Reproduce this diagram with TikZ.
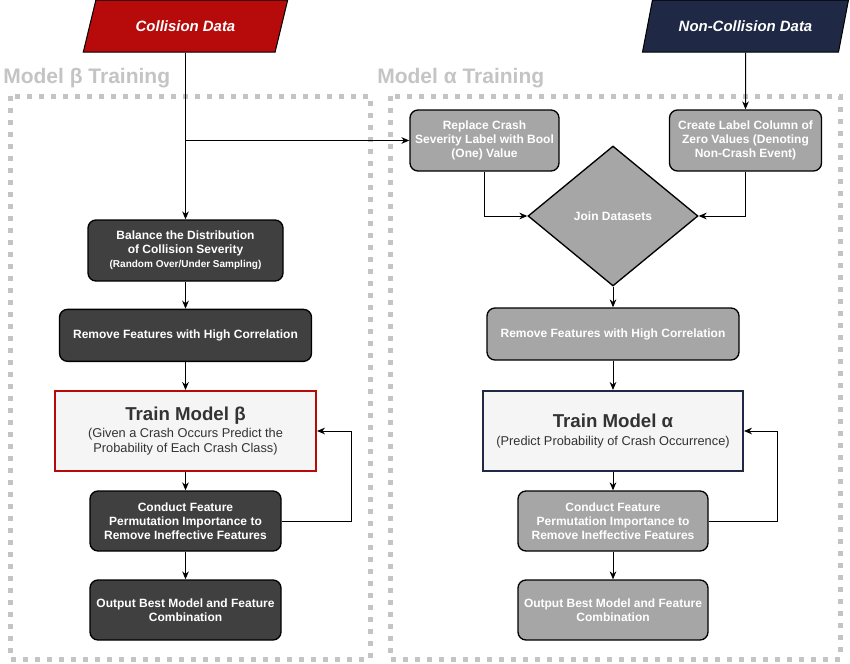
\documentclass[tikz,border=0pt]{standalone}
\usepackage{fontspec}
\setmainfont{Liberation Sans}
\usetikzlibrary{positioning, shapes.geometric, arrows.meta}

\definecolor{crashred}{HTML}{B70B0B}
\definecolor{navy}{HTML}{1F2845}
\definecolor{darkbox}{HTML}{404040}
\definecolor{lightbox}{HTML}{A6A6A6}
\definecolor{trainfill}{HTML}{F5F5F5}
\definecolor{framegray}{HTML}{C4C4C4}
\definecolor{titlegray}{HTML}{333333}

\tikzset{
  data/.style={trapezium, trapezium left angle=69, trapezium right angle=111,
    trapezium stretches=true, draw=black, line width=0.75pt,
    minimum width=154.5pt, minimum height=39pt, text=white,
    font=\bfseries\itshape\fontsize{11.2}{13}\selectfont},
  process/.style={draw=black, line width=1pt, rounded corners=6pt, text=white,
    align=center, inner sep=2pt, font=\bfseries\fontsize{9}{10.5}\selectfont},
  dark/.style={process, fill=darkbox},
  light/.style={process, fill=lightbox},
  train/.style={draw, line width=1.5pt, fill=trainfill, text=titlegray, align=center,
    minimum height=60pt, font=\fontsize{9.6}{11.25}\selectfont},
  frame/.style={draw=framegray, line width=3.75pt, dash pattern=on 3.75pt off 5.25pt},
  group/.style={text=framegray, anchor=west, inner sep=0pt,
    font=\bfseries\fontsize{15.75}{18}\selectfont},
  arr/.style={-{Stealth[length=6pt,width=5pt]}, line width=0.75pt},
}

\begin{document}
\begin{tikzpicture}[x=0.75pt, y=-0.75pt]
  \useasboundingbox (0,0) rectangle (850,664);

  % Groups
  \draw[frame] (10,96) rectangle (370,659);
  \draw[frame] (390,96) rectangle (840,659);
  \node[group] (betalabel) at (3,78) {Model β Training};
  \node[group] (alphalabel) at (377,78) {Model α Training};

  %Define nodes
  \node[data, fill=crashred] (collision) at (185.5,26) {Collision Data};
  \node[data, fill=navy] (noncollision) at (745.5,26) {Non-Collision Data};

  \node[dark, minimum width=146.25pt, minimum height=45.75pt] (balance) at (185.5,250.5)
    {Balance the Distribution\\of Collision Severity\\{\fontsize{7.5}{9}\selectfont (Random Over/Under Sampling)}};
  \node[dark, minimum width=189pt, minimum height=39pt, below=20.25pt of balance] (removeL)
    {Remove Features with High Correlation};
  \node[train, draw=crashred, minimum width=195.75pt] (trainL) at (185.5,431)
    {{\bfseries\fontsize{14}{15}\selectfont Train Model β}\\[2pt]
     (Given a Crash Occurs Predict the\\Probability of Each Crash Class)};
  \node[dark, minimum width=143.25pt, minimum height=45pt] (conductL) at (185.5,521)
    {Conduct Feature\\Permutation Importance to\\Remove Ineffective Features};
  \node[dark, minimum width=143.25pt, minimum height=45pt] (outputL) at (185.5,610)
    {Output Best Model and Feature\\Combination};

  \node[light, minimum width=111.75pt, minimum height=45.75pt] (replace) at (484.5,140.5)
    {Replace Crash\\Severity Label with Bool\\(One) Value};
  \node[light, minimum width=114pt, minimum height=45.75pt] (create) at (745.5,140.5)
    {Create Label Column of\\Zero Values (Denoting\\Non-Crash Event)};
  \node[diamond, draw=black, line width=1pt, fill=lightbox, text=white, inner sep=0pt,
    minimum width=127.5pt, minimum height=105pt,
    font=\bfseries\fontsize{9}{10.5}\selectfont] (join) at (613,216) {Join Datasets};
  \node[light, minimum width=189pt, minimum height=39pt] (removeR) at (613,334)
    {Remove Features with High Correlation};
  \node[train, draw=navy, minimum width=195pt] (trainR) at (613,431)
    {{\bfseries\fontsize{14}{15}\selectfont Train Model α}\\[2pt]
     (Predict Probability of Crash Occurrence)};
  \node[light, minimum width=142.5pt, minimum height=45pt] (conductR) at (613,521)
    {Conduct Feature\\Permutation Importance to\\Remove Ineffective Features};
  \node[light, minimum width=142.5pt, minimum height=45pt] (outputR) at (613,610)
    {Output Best Model and Feature\\Combination};

  % Connect the nodes
  \draw[arr] (collision) -- (balance);
  \draw[arr] (collision |- replace.west) -- (replace.west);
  \draw[arr] (balance) -- (removeL);
  \draw[arr] (removeL) -- (trainL);
  \draw[arr] (trainL) -- (conductL);
  \draw[arr] (conductL) -- (outputL);
  \draw[arr] (conductL.east) -- ++(70,0) |- (trainL.east);

  \draw[arr] (noncollision) -- (create);
  \draw[arr] (replace) |- (join);
  \draw[arr] (create) |- (join);
  \draw[arr] (join) -- (removeR);
  \draw[arr] (removeR) -- (trainR);
  \draw[arr] (trainR) -- (conductR);
  \draw[arr] (conductR) -- (outputR);
  \draw[arr] (conductR.east) -- ++(69,0) |- (trainR.east);

\end{tikzpicture}
\end{document}
